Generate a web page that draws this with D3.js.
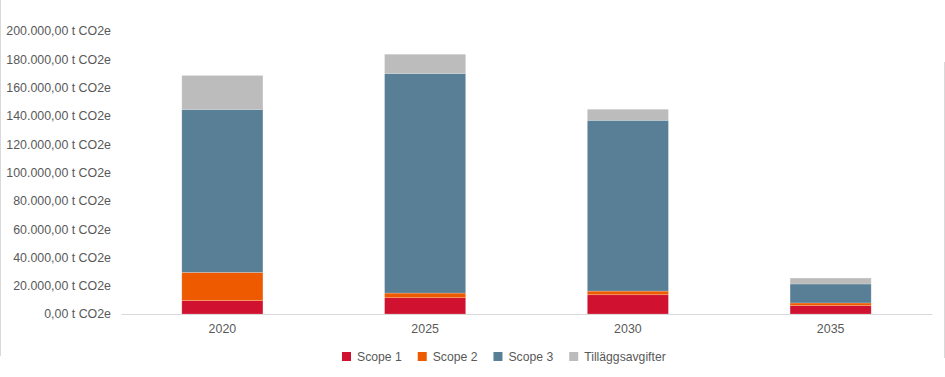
<!DOCTYPE html>
<html>
<head>
<meta charset="utf-8">
<script src="https://cdn.jsdelivr.net/npm/d3@7"></script>
<style>
  body { margin: 0; background: #fff; }
  text { font-family: "Liberation Sans", Arial, sans-serif; }
</style>
</head>
<body>
<script>
var years = ["2020", "2025", "2030", "2035"];
var seriesNames = ["Scope 1", "Scope 2", "Scope 3", "Tilläggsavgifter"];
var scope1 = [9400, 11500, 13600, 5900];
var scope2 = [20000, 3300, 2600, 1900];
var scope3 = [115200, 155200, 120700, 13400];
var tillagg = [24000, 13600, 7800, 4200];
var yTicks = [0, 20000, 40000, 60000, 80000, 100000, 120000, 140000, 160000, 180000, 200000];
var colors = ["#d0112f", "#ee5a00", "#587f95", "#bcbcbd"];

var width = 945, height = 377;
var margin = { left: 121, right: 13, top: 31, bottom: 63 };

var svg = d3.select("body").append("svg")
    .attr("width", width)
    .attr("height", height);

// outer frame lines
svg.append("line").attr("x1", 0.5).attr("x2", 0.5).attr("y1", 0).attr("y2", 356)
    .attr("stroke", "#d9d9d9");
svg.append("line").attr("x1", 944.5).attr("x2", 944.5).attr("y1", 62).attr("y2", 358)
    .attr("stroke", "#d9d9d9");

var x = d3.scaleBand()
    .domain(years)
    .range([margin.left, width - margin.right])
    .paddingInner(0.6)
    .paddingOuter(0.3);

var y = d3.scaleLinear()
    .domain([0, 200000])
    .range([height - margin.bottom, margin.top]);

var rows = years.map(function (yr, i) {
    return { year: yr, "Scope 1": scope1[i], "Scope 2": scope2[i], "Scope 3": scope3[i], "Tilläggsavgifter": tillagg[i] };
});

var stacked = d3.stack().keys(seriesNames)(rows);

var fmt = d3.formatLocale({ decimal: ",", thousands: ".", grouping: [3], currency: ["", ""] }).format(",.2f");

// y axis labels
var yAxis = d3.axisLeft(y)
    .tickValues(yTicks)
    .tickSize(0)
    .tickPadding(10)
    .tickFormat(function (d) { return fmt(d) + " t CO2e"; });

svg.append("g")
    .attr("transform", "translate(" + margin.left + ",0)")
    .call(yAxis)
    .call(function (g) { g.select(".domain").remove(); })
    .selectAll("text")
    .attr("fill", "#595959")
    .style("font-size", "12.4px");

// bars
svg.append("g").selectAll("g")
    .data(stacked)
    .enter().append("g")
    .attr("fill", function (d, i) { return colors[i]; })
    .selectAll("rect")
    .data(function (d) { return d; })
    .enter().append("rect")
    .attr("x", function (d) { return x(d.data.year); })
    .attr("y", function (d) { return y(d[1]); })
    .attr("width", x.bandwidth())
    .attr("height", function (d) { return y(d[0]) - y(d[1]); })
    .attr("stroke", "#ffffff")
    .attr("stroke-opacity", 0.35)
    .attr("stroke-width", 0.6);

// x axis
var xAxis = d3.axisBottom(x).tickSize(0).tickPadding(10);
svg.append("g")
    .attr("transform", "translate(0," + (height - margin.bottom) + ")")
    .call(xAxis)
    .call(function (g) {
        g.select(".domain").attr("stroke", "#d9d9d9");
        g.selectAll("text").attr("fill", "#595959").style("font-size", "12.4px");
    });

// legend
var legend = svg.append("g").attr("transform", "translate(342,352)");
var lx = 0;
seriesNames.forEach(function (name, i) {
    var item = legend.append("g").attr("transform", "translate(" + lx + ",0)");
    item.append("rect").attr("width", 9).attr("height", 9).attr("fill", colors[i]);
    var t = item.append("text")
        .attr("x", 15)
        .attr("y", 9)
        .attr("fill", "#595959")
        .style("font-size", "12.2px")
        .text(name);
    lx += 15 + t.node().getComputedTextLength() + 16;
});
</script>
</body>
</html>
